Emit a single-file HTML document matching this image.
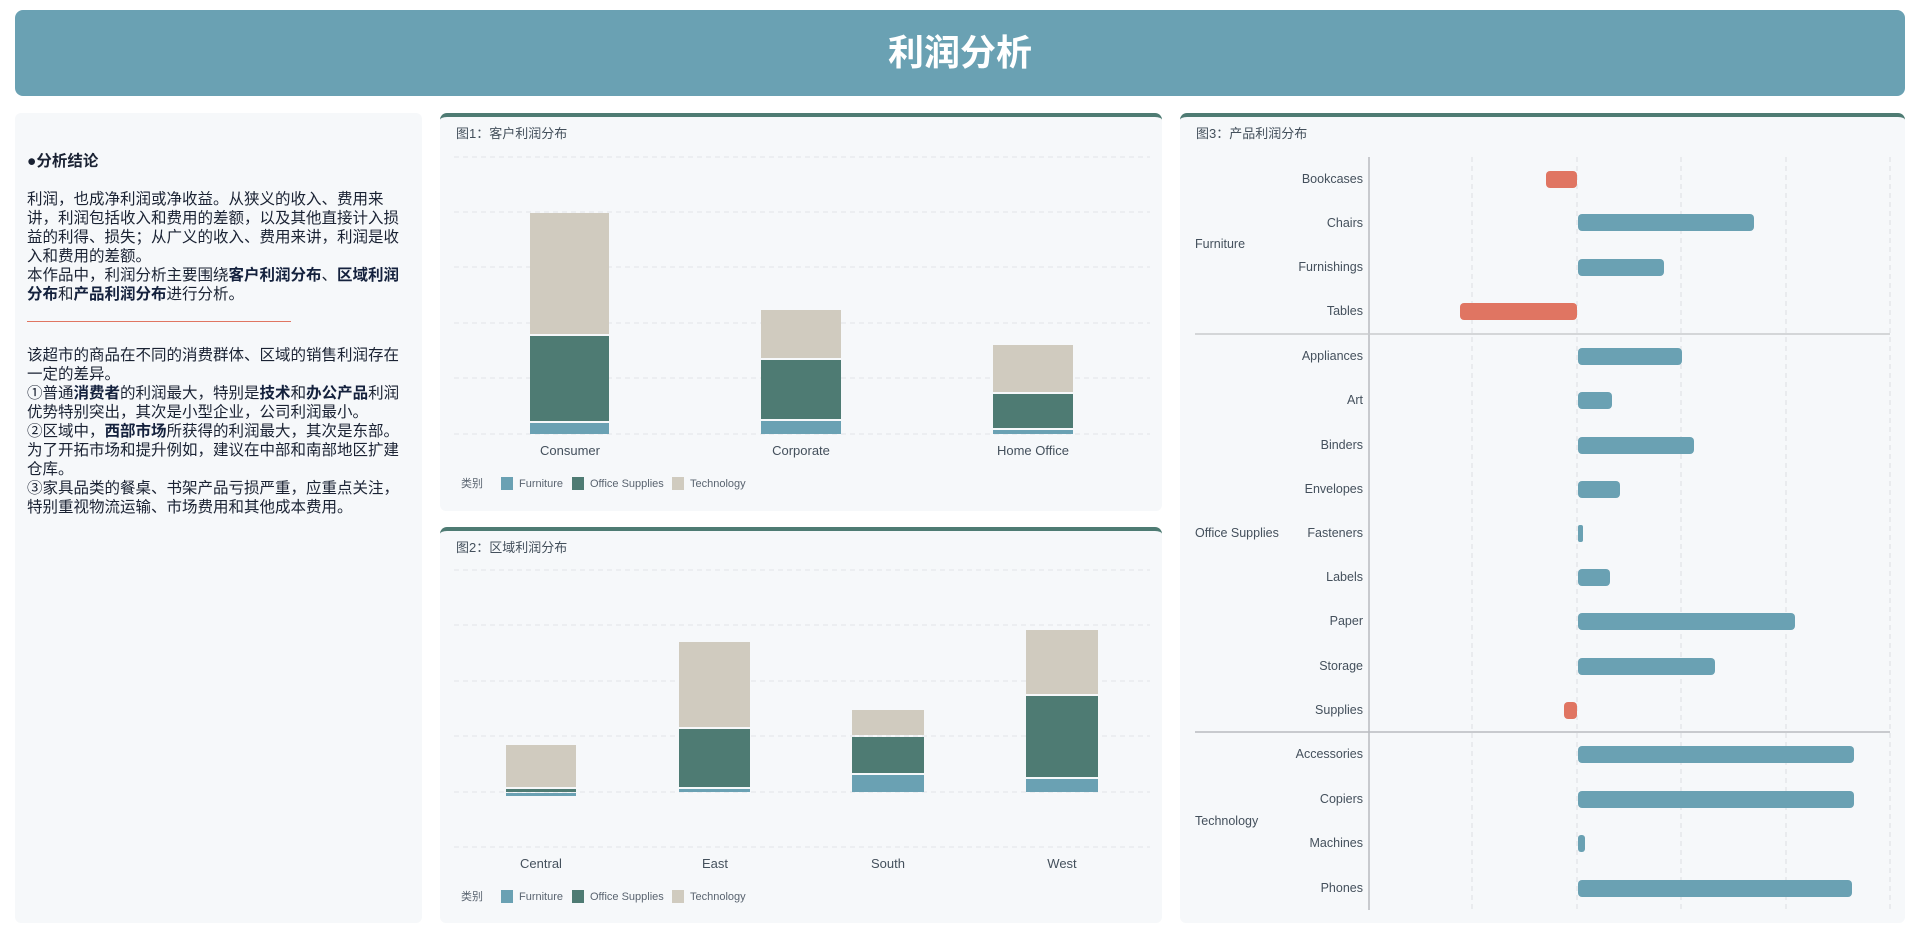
<!DOCTYPE html>
<html><head><meta charset="utf-8">
<style>
*{margin:0;padding:0;box-sizing:border-box}
body{width:1920px;height:939px;background:#fff;position:relative;overflow:hidden;font-family:"Liberation Sans","Noto Sans CJK SC",sans-serif}
.hdr{position:absolute;left:15px;top:10px;width:1890px;height:86px;background:#6aa1b3;border-radius:8px;color:#fff;font-size:36px;font-weight:bold;text-align:center;line-height:86px;font-family:"Liberation Sans","Noto Sans CJK SC",sans-serif}
.pnl{position:absolute;background:#f6f8fa;border-radius:6px}
.top{border-top:4px solid #4e7b73;border-radius:7px 7px 6px 6px}
.txt{position:absolute;left:27px;top:150px;width:390px;font-size:15.5px;line-height:19px;color:#1a2233;white-space:nowrap}
.txt b{color:#14213d}
svg{position:absolute;left:0;top:0}
</style></head><body>
<div class="hdr">利润分析</div>
<div class="pnl" style="left:15px;top:113px;width:407px;height:810px"></div>
<div class="pnl top" style="left:440px;top:113px;width:722px;height:398px"></div>
<div class="pnl top" style="left:440px;top:527px;width:722px;height:396px"></div>
<div class="pnl top" style="left:1180px;top:113px;width:725px;height:810px"></div>
<div class="txt">
<div style="font-weight:bold;font-size:15.5px;line-height:24px">●分析结论</div>
<div style="height:16px"></div>
利润，也成净利润或净收益。从狭义的收入、费用来<br>讲，利润包括收入和费用的差额，以及其他直接计入损<br>益的利得、损失；从广义的收入、费用来讲，利润是收<br>入和费用的差额。<br>本作品中，利润分析主要围绕<b>客户利润分布</b>、<b>区域利润</b><br><b>分布</b>和<b>产品利润分布</b>进行分析。
<div style="margin:17px 0 0 0;width:264px;height:1px;background:#e07562"></div>
<div style="height:24px"></div>
该超市的商品在不同的消费群体、区域的销售利润存在<br>一定的差异。<br>①普通<b>消费者</b>的利润最大，特别是<b>技术</b>和<b>办公产品</b>利润<br>优势特别突出，其次是小型企业，公司利润最小。<br>②区域中，<b>西部市场</b>所获得的利润最大，其次是东部。<br>为了开拓市场和提升例如，建议在中部和南部地区扩建<br>仓库。<br>③家具品类的餐桌、书架产品亏损严重，应重点关注，<br>特别重视物流运输、市场费用和其他成本费用。
</div>
<svg width="1920" height="939" font-family="Liberation Sans, Noto Sans CJK SC, sans-serif">
<g fill="#44505c" font-size="13">
<text x="456" y="138">图1：客户利润分布</text>
<text x="456" y="552">图2：区域利润分布</text>
<text x="1196" y="138">图3：产品利润分布</text>
</g>
<!-- chart1 grid -->
<g stroke="#e2e4e8" stroke-dasharray="5,4" stroke-width="1">
<line x1="454" x2="1150" y1="157" y2="157"/><line x1="454" x2="1150" y1="212" y2="212"/><line x1="454" x2="1150" y1="267" y2="267"/><line x1="454" x2="1150" y1="323" y2="323"/><line x1="454" x2="1150" y1="378" y2="378"/><line x1="454" x2="1150" y1="434" y2="434"/>
<line x1="454" x2="1150" y1="570" y2="570"/><line x1="454" x2="1150" y1="625" y2="625"/><line x1="454" x2="1150" y1="681" y2="681"/><line x1="454" x2="1150" y1="736" y2="736"/><line x1="454" x2="1150" y1="792" y2="792"/><line x1="454" x2="1150" y1="847" y2="847"/>
</g>
<g>
<rect x="530" y="423" width="79" height="11" fill="#6aa1b3"/>
<rect x="530" y="336" width="79" height="85" fill="#4e7b73"/>
<rect x="530" y="213" width="79" height="121" fill="#d0cbbf"/>
<rect x="761" y="421" width="80" height="13" fill="#6aa1b3"/>
<rect x="761" y="360" width="80" height="59" fill="#4e7b73"/>
<rect x="761" y="310" width="80" height="48" fill="#d0cbbf"/>
<rect x="993" y="430" width="80" height="4" fill="#6aa1b3"/>
<rect x="993" y="394" width="80" height="34" fill="#4e7b73"/>
<rect x="993" y="345" width="80" height="47" fill="#d0cbbf"/>
</g>
<g fill="#44505c" font-size="13" text-anchor="middle">
<text x="570" y="455">Consumer</text><text x="801" y="455">Corporate</text><text x="1033" y="455">Home Office</text>
<text x="541" y="868">Central</text><text x="715" y="868">East</text><text x="888" y="868">South</text><text x="1062" y="868">West</text>
</g>
<!-- chart2 bars -->
<g>
<rect x="506" y="793" width="70" height="3" fill="#6aa1b3"/>
<rect x="506" y="789" width="70" height="3" fill="#4e7b73"/>
<rect x="506" y="745" width="70" height="42" fill="#d0cbbf"/>
<rect x="679" y="789" width="71" height="3" fill="#6aa1b3"/>
<rect x="679" y="729" width="71" height="58" fill="#4e7b73"/>
<rect x="679" y="642" width="71" height="85" fill="#d0cbbf"/>
<rect x="852" y="775" width="72" height="17" fill="#6aa1b3"/>
<rect x="852" y="737" width="72" height="36" fill="#4e7b73"/>
<rect x="852" y="710" width="72" height="25" fill="#d0cbbf"/>
<rect x="1026" y="779" width="72" height="13" fill="#6aa1b3"/>
<rect x="1026" y="696" width="72" height="81" fill="#4e7b73"/>
<rect x="1026" y="630" width="72" height="64" fill="#d0cbbf"/>
</g>
<!-- legends -->
<g font-size="11" fill="#5a6470">
<text x="461" y="487">类别</text>
<rect x="501" y="477" width="12" height="13" fill="#6aa1b3"/><text x="519" y="487">Furniture</text>
<rect x="572" y="477" width="12" height="13" fill="#4e7b73"/><text x="590" y="487">Office Supplies</text>
<rect x="672" y="477" width="12" height="13" fill="#d0cbbf"/><text x="690" y="487">Technology</text>
<text x="461" y="900">类别</text>
<rect x="501" y="890" width="12" height="13" fill="#6aa1b3"/><text x="519" y="900">Furniture</text>
<rect x="572" y="890" width="12" height="13" fill="#4e7b73"/><text x="590" y="900">Office Supplies</text>
<rect x="672" y="890" width="12" height="13" fill="#d0cbbf"/><text x="690" y="900">Technology</text>
</g>
<!-- chart3 -->
<g stroke="#dcdee2" stroke-dasharray="5,4">
<line x1="1472" x2="1472" y1="157" y2="910"/><line x1="1577" x2="1577" y1="157" y2="910"/><line x1="1681" x2="1681" y1="157" y2="910"/><line x1="1786" x2="1786" y1="157" y2="910"/><line x1="1890" x2="1890" y1="157" y2="910"/>
</g>
<line x1="1369" x2="1369" y1="157" y2="910" stroke="#b8bbc0" stroke-width="1.5"/>
<line x1="1195" x2="1890" y1="334" y2="334" stroke="#c8cacd" stroke-width="1.5"/>
<line x1="1195" x2="1890" y1="732" y2="732" stroke="#b8bbc0" stroke-width="1.5"/>
<g>
<rect x="1546" y="171" width="31" height="17" rx="4" fill="#e07562"/>
<rect x="1578" y="214" width="176" height="17" rx="4" fill="#6aa1b3"/>
<rect x="1578" y="259" width="86" height="17" rx="4" fill="#6aa1b3"/>
<rect x="1460" y="303" width="117" height="17" rx="4" fill="#e07562"/>
<rect x="1578" y="348" width="104" height="17" rx="4" fill="#6aa1b3"/>
<rect x="1578" y="392" width="34" height="17" rx="4" fill="#6aa1b3"/>
<rect x="1578" y="437" width="116" height="17" rx="4" fill="#6aa1b3"/>
<rect x="1578" y="481" width="42" height="17" rx="4" fill="#6aa1b3"/>
<rect x="1578" y="525" width="5" height="17" rx="2" fill="#6aa1b3"/>
<rect x="1578" y="569" width="32" height="17" rx="4" fill="#6aa1b3"/>
<rect x="1578" y="613" width="217" height="17" rx="4" fill="#6aa1b3"/>
<rect x="1578" y="658" width="137" height="17" rx="4" fill="#6aa1b3"/>
<rect x="1564" y="702" width="13" height="17" rx="4" fill="#e07562"/>
<rect x="1578" y="746" width="276" height="17" rx="4" fill="#6aa1b3"/>
<rect x="1578" y="791" width="276" height="17" rx="4" fill="#6aa1b3"/>
<rect x="1578" y="835" width="7" height="17" rx="3" fill="#6aa1b3"/>
<rect x="1578" y="880" width="274" height="17" rx="4" fill="#6aa1b3"/>
</g>
<g font-size="12.5" fill="#44505c" text-anchor="end">
<text x="1363" y="183">Bookcases</text><text x="1363" y="227">Chairs</text><text x="1363" y="271">Furnishings</text><text x="1363" y="315">Tables</text>
<text x="1363" y="360">Appliances</text><text x="1363" y="404">Art</text><text x="1363" y="449">Binders</text><text x="1363" y="493">Envelopes</text><text x="1363" y="537">Fasteners</text><text x="1363" y="581">Labels</text><text x="1363" y="625">Paper</text><text x="1363" y="670">Storage</text><text x="1363" y="714">Supplies</text>
<text x="1363" y="758">Accessories</text><text x="1363" y="803">Copiers</text><text x="1363" y="847">Machines</text><text x="1363" y="892">Phones</text>
</g>
<g font-size="12.5" fill="#44505c">
<text x="1195" y="248">Furniture</text><text x="1195" y="537">Office Supplies</text><text x="1195" y="825">Technology</text>
</g>
</svg>
</body></html>
